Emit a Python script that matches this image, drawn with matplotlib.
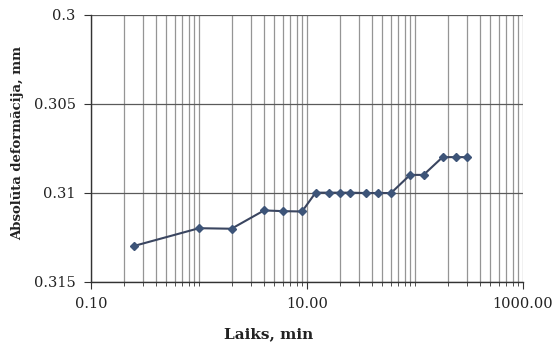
import matplotlib
matplotlib.use("Agg")
import matplotlib.pyplot as plt
from matplotlib.ticker import LogLocator, FixedLocator, FuncFormatter, NullFormatter

# Measured settlement vs time (log scale)
time_min = [0.25, 1, 2, 4, 6, 9, 12, 16, 20, 25, 35, 45, 60, 90, 120, 180, 240, 300]
deform_mm = [0.3130, 0.3120, 0.31203, 0.3110, 0.31104, 0.31106,
             0.3100, 0.3100, 0.3100, 0.3100, 0.31002, 0.31002, 0.31002,
             0.3090, 0.3090, 0.3080, 0.3080, 0.3080]

y_ticks = [0.3, 0.305, 0.31, 0.315]
y_tick_labels = ["0.3", "0.305", "0.31", "0.315"]
x_label = "Laiks, min"
y_label = "Absolūta deformācija, mm"

plt.rcParams["font.family"] = ["DejaVu Serif"]

fig = plt.figure(figsize=(5.57, 3.45), dpi=100)
ax = fig.add_axes([91 / 557, 1 - 281.5 / 345, (523 - 91) / 557, (281.5 - 15) / 345])

ax.set_xscale("log")
ax.set_xlim(0.1, 1000)
ax.set_ylim(0.315, 0.3)

# grid lines: every 1..9 step of each decade, labels only every 2 decades
ax.xaxis.set_major_locator(FixedLocator([0.1, 10, 1000]))
ax.xaxis.set_minor_locator(LogLocator(base=10, subs=range(1, 10), numticks=20))
ax.xaxis.set_major_formatter(FuncFormatter(lambda v, p: f"{v:.2f}"))
ax.xaxis.set_minor_formatter(NullFormatter())
ax.grid(True, which="both", axis="x", color="#959595", linewidth=0.9)
ax.set_yticks(y_ticks)
ax.set_yticklabels(y_tick_labels)
ax.grid(True, which="major", axis="y", color="#5a5a5a", linewidth=0.9)
ax.set_axisbelow(True)

ax.plot(time_min, deform_mm, color="#3a4560", linewidth=1.5,
        marker="D", markersize=4.5, markerfacecolor="#3d5478",
        markeredgecolor="#3d5478", zorder=3)

for side in ["top", "right"]:
    ax.spines[side].set_visible(False)
for side in ["left", "bottom"]:
    ax.spines[side].set_color("#333333")
    ax.spines[side].set_linewidth(1.0)

ax.tick_params(axis="both", which="major", direction="out", length=5,
               color="#333333", labelcolor="#222222", labelsize=10.5, pad=6)
ax.tick_params(axis="x", which="minor", direction="out", length=3, color="#333333")

fig.text(269 / 557, 1 - 334 / 345, x_label, ha="center", va="center",
         fontsize=11, fontweight="bold", color="#222222")
fig.text(18 / 557, 1 - 143 / 345, y_label, ha="center", va="center",
         rotation=90, fontsize=9.5, fontweight="bold", color="#222222")

fig.savefig("out.png", dpi=100)
